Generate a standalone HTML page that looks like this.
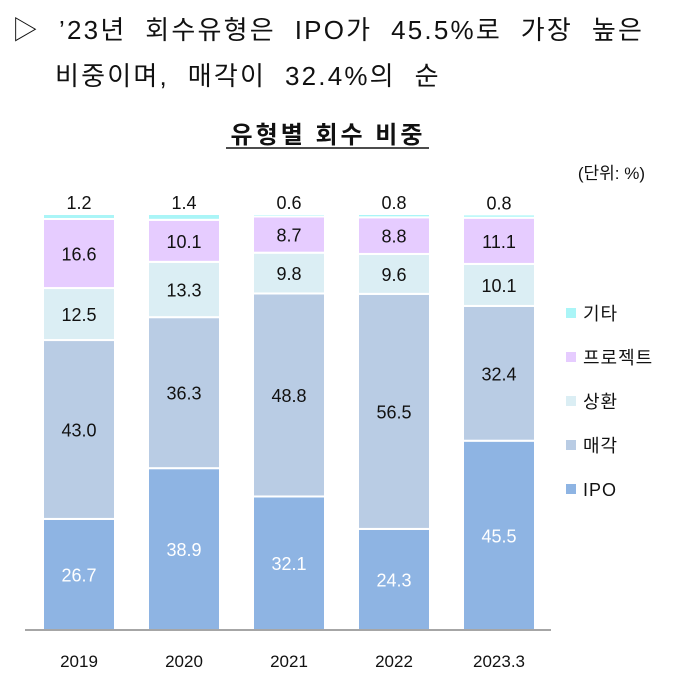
<!DOCTYPE html>
<html><head><meta charset="utf-8"><style>
body{margin:0;background:#fff;width:687px;height:700px;overflow:hidden;font-family:"Liberation Sans","Noto Sans CJK KR",sans-serif;}
.h{position:absolute;font-size:26px;color:#111;white-space:nowrap;letter-spacing:2.2px;}
</style></head><body>
<div class="h" style="left:12px;top:10px;">▷&nbsp; ’23년&nbsp; 회수유형은&nbsp; IPO가&nbsp; 45.5%로&nbsp; 가장&nbsp; 높은</div>
<div class="h" style="left:55px;top:56px;">비중이며,&nbsp; 매각이&nbsp; 32.4%의&nbsp; 순</div>
<svg id="c" width="687" height="700" style="position:absolute;left:0;top:0">
<text x="328" y="143" text-anchor="middle" font-size="24" font-weight="bold" letter-spacing="3" fill="#111">유형별 회수 비중</text>
<line x1="226" y1="148" x2="429" y2="148" stroke="#111" stroke-width="1.5"/>
<text x="645" y="179" text-anchor="end" font-size="17" fill="#111">(단위: %)</text>
</svg>
<script>
const categories=["2019","2020","2021","2022","2023.3"];
const ipo=[26.7,38.9,32.1,24.3,45.5];
const sale=[43.0,36.3,48.8,56.5,32.4];
const repay=[12.5,13.3,9.8,9.6,10.1];
const project=[16.6,10.1,8.7,8.8,11.1];
const other=[1.2,1.4,0.6,0.8,0.8];
const seriesNames=["IPO","매각","상환","프로젝트","기타"];
const series=[ipo,sale,repay,project,other];
const colors=["#8eb4e3","#b9cce4","#dbeef4","#e6ccff","#aaf5f7"];
const ns="http://www.w3.org/2000/svg",svg=document.getElementById('c');
const base=630,scale=4.16,x0=79,step=105,bw=72;
const y=v=>base-v*scale, xc=i=>x0+i*step;
function mk(t,a,txt){const e=document.createElementNS(ns,t);for(const k in a)e.setAttribute(k,a[k]);if(txt!=null)e.textContent=txt;svg.appendChild(e);return e;}
categories.forEach((c,i)=>{
  let cum=0;
  series.forEach((s,j)=>{
    const v=s[i];
    const r=mk('rect',{x:xc(i)-bw/2,y:y(cum+v),width:bw,height:v*scale,fill:colors[j],stroke:'#fff','stroke-width':2});
    
    
    const ly=j===4?y(cum+v)-5:y(cum+v/2)+7;
    const t=mk('text',{x:xc(i),y:ly,'text-anchor':'middle','font-size':18,fill:j===0?'#fff':'#111'},v.toFixed(1));
    
    
    cum+=v;
  });
  const t=mk('text',{x:xc(i),y:667,'text-anchor':'middle','font-size':17,fill:'#111'},c);
  
  
});
const ax=mk('line',{x1:25,y1:base,x2:551,y2:base,stroke:'#888','stroke-width':1.5});


for(let j=4;j>=0;j--){
  const ly=320+(4-j)*44;
  const r=mk('rect',{x:566,y:ly-12,width:10,height:10,fill:colors[j]});
  
  
  const t=mk('text',{x:583,y:ly,'font-size':18,'letter-spacing':1,fill:'#111'},seriesNames[j]);
  
  
}
</script>
</body></html>
